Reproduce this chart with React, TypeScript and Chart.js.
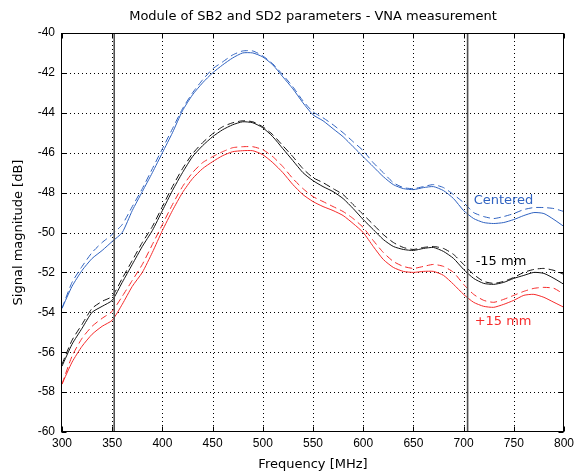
import React, { useEffect, useRef } from 'react';
import { Chart, registerables } from 'chart.js';

Chart.register(...registerables);

// ---------------- data ----------------
const freqs = [
  300, 310, 320, 330, 340, 350, 360, 370, 380, 390,
  400, 410, 420, 430, 440, 450, 460, 470, 480, 490,
  500, 510, 520, 530, 540, 550, 560, 570, 580, 590,
  600, 610, 620, 630, 640, 650, 660, 670, 680, 690,
  700, 710, 720, 730, 740, 750, 760, 770, 780, 790, 800,
];

const centeredSolid = [
  -53.8, -52.7, -51.9, -51.3, -50.9, -50.45, -50.0, -48.9, -47.95, -47.0,
  -46.0, -45.0, -43.9, -43.1, -42.5, -42.0, -41.6, -41.25, -41.0, -41.0,
  -41.2, -41.6, -42.2, -42.8, -43.5, -44.1, -44.4, -44.8, -45.2, -45.7,
  -46.2, -46.7, -47.2, -47.6, -47.8, -47.85, -47.75, -47.7, -47.9, -48.3,
  -48.9, -49.3, -49.5, -49.55, -49.5, -49.35, -49.15, -49.0, -49.05, -49.35, -49.7,
];
const centeredDashed = [
  -53.8, -52.5, -51.7, -51.0, -50.5, -50.1, -49.6, -48.7, -47.8, -46.8,
  -45.8, -44.8, -43.8, -43.0, -42.35, -41.8, -41.45, -41.1, -40.9, -40.9,
  -41.15, -41.55, -42.1, -42.7, -43.4, -43.95, -44.25, -44.6, -45.0, -45.45,
  -45.9, -46.5, -47.0, -47.5, -47.75, -47.8, -47.7, -47.6, -47.75, -48.1,
  -48.5, -49.0, -49.2, -49.3, -49.2, -49.05, -48.85, -48.75, -48.75, -48.8, -48.95,
];
const minus15Solid = [
  -56.7, -55.6, -54.8, -54.0, -53.7, -53.4, -52.5, -51.6, -50.7, -49.9,
  -48.9, -47.9, -47.0, -46.2, -45.65, -45.2, -44.85, -44.6, -44.45, -44.5,
  -44.75, -45.2, -45.8, -46.4, -47.0, -47.4, -47.7, -47.95, -48.3, -48.8,
  -49.35, -49.85, -50.35, -50.7, -50.85, -50.9, -50.8, -50.75, -50.95, -51.3,
  -51.85, -52.3, -52.55, -52.6, -52.5, -52.3, -52.15, -52.0, -52.05, -52.3, -52.6,
];
const minus15Dashed = [
  -56.6, -55.4, -54.6, -53.8, -53.45, -53.2, -52.3, -51.4, -50.5, -49.7,
  -48.7, -47.7, -46.8, -46.05, -45.5, -45.05, -44.7, -44.5, -44.4, -44.45,
  -44.7, -45.1, -45.65, -46.2, -46.8, -47.25, -47.5, -47.8, -48.1, -48.6,
  -49.1, -49.6, -50.1, -50.5, -50.75, -50.85, -50.75, -50.7, -50.8, -51.1,
  -51.6, -52.1, -52.45, -52.55, -52.45, -52.25, -52.0, -51.85, -51.8, -51.9, -52.1,
];
const plus15Solid = [
  -57.6, -56.5, -55.7, -55.1, -54.7, -54.4, -53.6, -52.7, -52.0, -51.0,
  -49.9, -48.9, -48.0, -47.3, -46.8, -46.45, -46.15, -45.95, -45.9, -45.9,
  -46.1, -46.5, -47.0, -47.6, -48.1, -48.45, -48.7, -48.9, -49.15, -49.55,
  -50.0, -50.7, -51.35, -51.75, -51.95, -52.0, -51.95, -51.95, -52.15, -52.6,
  -53.1, -53.5, -53.7, -53.75, -53.6, -53.4, -53.15, -53.1, -53.25, -53.5, -53.75,
];
const plus15Dashed = [
  -57.6, -56.2, -55.3, -54.7, -54.3, -53.95, -53.2, -52.4, -51.6, -50.6,
  -49.6, -48.6, -47.7, -47.0, -46.5, -46.2, -45.95, -45.75, -45.7, -45.7,
  -45.85, -46.2, -46.7, -47.3, -47.8, -48.2, -48.45, -48.7, -48.95, -49.3,
  -49.75, -50.4, -51.0, -51.45, -51.7, -51.8, -51.7, -51.6, -51.7, -52.0,
  -52.6, -53.1, -53.4, -53.5, -53.35, -53.15, -52.95, -52.8, -52.75, -52.8, -53.1,
];

const markerFreqs = [352, 704];
const xTickValues = [300, 350, 400, 450, 500, 550, 600, 650, 700, 750, 800];
const yTickValues = [-60, -58, -56, -54, -52, -50, -48, -46, -44, -42, -40];
const seriesLabels = ['Centered', '-15 mm', '+15 mm'];
const titleText = 'Module of SB2 and SD2 parameters - VNA measurement';
const xTitle = 'Frequency [MHz]';
const yTitle = 'Signal magnitude [dB]';

// ---------------- styles ----------------
const BLUE = '#2f62c0';
const RED = '#f62a2a';
const BLACK = '#111111';
const DASH = [7, 4];
const TITLE_FONT = "13px 'DejaVu Sans', sans-serif";
const TICK_FAMILY = "'Liberation Sans', Arial, sans-serif";

const pts = (ys: number[]) => freqs.map((f, i) => ({ x: f, y: ys[i] }));

const framePlugin = {
  id: 'matlabFrame',
  beforeDatasetsDraw(chart: any) {
    const { ctx, chartArea: a, scales } = chart;
    ctx.save();
    ctx.strokeStyle = '#000';
    ctx.lineWidth = 1;
    ctx.setLineDash([1, 3]);
    for (const v of xTickValues) {
      const px = Math.round(scales.x.getPixelForValue(v)) + 0.5;
      if (px <= a.left + 1 || px >= a.right - 1) continue;
      ctx.beginPath();
      ctx.moveTo(px, a.top);
      ctx.lineTo(px, a.bottom);
      ctx.stroke();
    }
    for (const v of yTickValues) {
      const py = Math.round(scales.y.getPixelForValue(v)) + 0.5;
      if (py <= a.top + 1 || py >= a.bottom - 1) continue;
      ctx.beginPath();
      ctx.moveTo(a.left, py);
      ctx.lineTo(a.right, py);
      ctx.stroke();
    }
    ctx.restore();
  },
  afterDraw(chart: any) {
    const { ctx, chartArea: a, scales } = chart;
    ctx.save();
    ctx.setLineDash([]);
    ctx.strokeStyle = '#000';
    ctx.lineWidth = 1;
    const L = Math.round(a.left) - 0.5;
    const R = Math.round(a.right) - 0.5;
    const T = Math.round(a.top) + 0.5;
    const B = Math.round(a.bottom) - 0.5;
    ctx.strokeRect(L, T, R - L, B - T);
    // inside ticks
    const tl = 5;
    ctx.beginPath();
    for (const v of xTickValues) {
      const px = Math.round(scales.x.getPixelForValue(v)) + 0.5;
      ctx.moveTo(px, B);
      ctx.lineTo(px, B - tl);
      ctx.moveTo(px, T);
      ctx.lineTo(px, T + tl);
    }
    for (const v of yTickValues) {
      const py = Math.round(scales.y.getPixelForValue(v)) + 0.5;
      ctx.moveTo(L, py);
      ctx.lineTo(L + tl, py);
      ctx.moveTo(R, py);
      ctx.lineTo(R - tl, py);
    }
    ctx.stroke();

    // titles
    ctx.fillStyle = '#000';
    ctx.font = TITLE_FONT;
    ctx.textAlign = 'center';
    ctx.textBaseline = 'middle';
    const cx = (a.left + a.right) / 2;
    ctx.fillText(titleText, cx, 17);
    ctx.fillText(xTitle, cx, 465);
    ctx.save();
    ctx.translate(18.5, (a.top + a.bottom) / 2);
    ctx.rotate(-Math.PI / 2);
    ctx.fillText(yTitle, 0, 0);
    ctx.restore();

    // series labels
    ctx.textAlign = 'left';
    const labelColors = [BLUE, '#000', RED];
    const labelAnchors = [
      { x: 710, y: -48.4 },
      { x: 712, y: -51.45 },
      { x: 711, y: -54.45 },
    ];
    seriesLabels.forEach((t, i) => {
      ctx.fillStyle = labelColors[i];
      ctx.fillText(
        t,
        scales.x.getPixelForValue(labelAnchors[i].x),
        scales.y.getPixelForValue(labelAnchors[i].y)
      );
    });
    ctx.restore();
  },
};

export default function App() {
  const ref = useRef<HTMLCanvasElement | null>(null);

  useEffect(() => {
    if (!ref.current) return;
    const line = (data: number[], color: string, dashed: boolean) => ({
      data: pts(data),
      borderColor: color,
      borderWidth: 1,
      borderDash: dashed ? DASH : [],
      pointRadius: 0,
      fill: false,
      tension: 0.2,
    });
    const markers = markerFreqs.map((f) => ({
      data: [
        { x: f, y: -60 },
        { x: f, y: -40 },
      ],
      borderColor: '#505050',
      borderWidth: 1.6,
      pointRadius: 0,
      fill: false,
    }));
    const chart = new Chart(ref.current, {
      type: 'line',
      data: {
        datasets: [
          ...markers,
          line(centeredDashed, BLUE, true),
          line(centeredSolid, BLUE, false),
          line(minus15Dashed, BLACK, true),
          line(minus15Solid, BLACK, false),
          line(plus15Dashed, RED, true),
          line(plus15Solid, RED, false),
        ] as any,
      },
      options: {
        responsive: false,
        animation: false,
        layout: { padding: { top: 33, right: 12, left: 0, bottom: 0 } },
        plugins: {
          legend: { display: false },
          tooltip: { enabled: false },
          title: { display: false },
        },
        scales: {
          x: {
            type: 'linear',
            min: 300,
            max: 800,
            afterBuildTicks: (s: any) => {
              s.ticks = xTickValues.map((v) => ({ value: v }));
            },
            afterFit: (s: any) => {
              s.height = 43;
            },
            grid: { display: false, drawTicks: false },
            border: { display: false },
            ticks: {
              padding: 4,
              color: '#000',
              font: { family: TICK_FAMILY, size: 12 },
              maxRotation: 0,
              autoSkip: false,
            },
          },
          y: {
            type: 'linear',
            min: -60,
            max: -40,
            afterBuildTicks: (s: any) => {
              s.ticks = yTickValues.map((v) => ({ value: v }));
            },
            afterFit: (s: any) => {
              s.width = 62;
            },
            grid: { display: false, drawTicks: false },
            border: { display: false },
            ticks: {
              padding: 7,
              color: '#000',
              font: { family: TICK_FAMILY, size: 12 },
              autoSkip: false,
            },
          },
        },
      } as any,
      plugins: [framePlugin],
    });
    return () => chart.destroy();
  }, []);

  return (
    <div style={{ position: 'fixed', left: 0, top: 0, width: 578, height: 475, background: '#fff' }}>
      <canvas ref={ref} width={578} height={475} style={{ width: 578, height: 475 }} />
    </div>
  );
}
